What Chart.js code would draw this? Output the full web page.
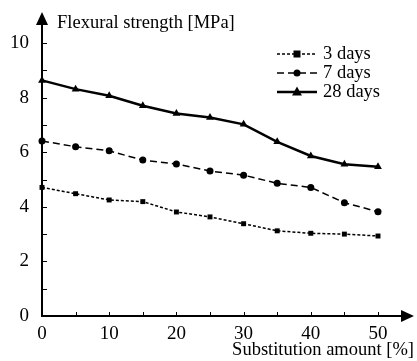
<!DOCTYPE html>
<html>
<head>
<meta charset="utf-8">
<script src="https://cdn.jsdelivr.net/npm/chart.js@4/dist/chart.umd.min.js"></script>
<style>
  html, body { margin: 0; padding: 0; background: #fff; }
  #wrap { width: 417px; height: 361px; }
</style>
</head>
<body>
<div id="wrap"><canvas id="flexChart"></canvas></div>
<script>
// 치환율 [%]
const substitution = [0, 5, 10, 15, 20, 25, 30, 35, 40, 45, 50];
// 휨강도 [MPa]
const days3 = [4.71, 4.48, 4.25, 4.19, 3.81, 3.63, 3.38, 3.12, 3.03, 3.00, 2.93];
const days7 = [6.41, 6.20, 6.05, 5.71, 5.57, 5.31, 5.16, 4.86, 4.71, 4.15, 3.82];
const days28 = [8.63, 8.31, 8.07, 7.70, 7.42, 7.27, 7.02, 6.38, 5.86, 5.56, 5.47];
const seriesNames = ['3 days', '7 days', '28 days'];
const xLabels = [0, 10, 20, 30, 40, 50];
const yLabels = [0, 2, 4, 6, 8, 10];

const serif = '"Liberation Serif", "Times New Roman", serif';

function toPoints(values) {
    return values.map((v, i) => ({ x: substitution[i], y: v }));
}

function drawMarker(ctx, style, r, x, y) {
    ctx.beginPath();
    if (style === 'rect') {
        ctx.rect(x - r, y - r, r * 2, r * 2);
    } else if (style === 'circle') {
        ctx.arc(x, y, r, 0, Math.PI * 2);
    } else {
        ctx.moveTo(x, y - r * 1.2);
        ctx.lineTo(x + r * 1.1, y + r * 0.8);
        ctx.lineTo(x - r * 1.1, y + r * 0.8);
        ctx.closePath();
    }
    ctx.fill();
}

// 축, 화살표, 눈금, 제목, 범례
const decorPlugin = {
    id: 'decor',
    afterDatasetsDraw(chart) {
        const ctx = chart.ctx;
        const xs = chart.scales.x;
        const ys = chart.scales.y;
        const x0 = xs.getPixelForValue(0);
        const y0 = ys.getPixelForValue(0);
        ctx.save();
        ctx.strokeStyle = '#000';
        ctx.fillStyle = '#000';
        ctx.lineWidth = 2;
        ctx.setLineDash([]);

        // 축선
        ctx.beginPath();
        ctx.moveTo(x0, y0 + 1);
        ctx.lineTo(x0, 22);
        ctx.moveTo(x0 - 1, y0);
        ctx.lineTo(404, y0);
        ctx.stroke();

        // 화살표
        ctx.beginPath();
        ctx.moveTo(x0, 12);
        ctx.lineTo(x0 + 6, 25);
        ctx.lineTo(x0 - 6, 25);
        ctx.closePath();
        ctx.fill();
        ctx.beginPath();
        ctx.moveTo(414, y0);
        ctx.lineTo(401, y0 - 6);
        ctx.lineTo(401, y0 + 6);
        ctx.closePath();
        ctx.fill();

        // 눈금 (안쪽)
        ctx.lineWidth = 1;
        ctx.beginPath();
        for (let v = 5; v <= 50; v += 5) {
            const px = Math.round(xs.getPixelForValue(v)) + 0.5;
            ctx.moveTo(px, y0);
            ctx.lineTo(px, y0 - 4);
        }
        for (let v = 1; v <= 10; v += 1) {
            const py = Math.round(ys.getPixelForValue(v)) + 0.5;
            ctx.moveTo(x0, py);
            ctx.lineTo(x0 + 5, py);
        }
        ctx.stroke();

        // 축 제목
        ctx.font = '18.5px ' + serif;
        ctx.textBaseline = 'alphabetic';
        ctx.textAlign = 'left';
        ctx.fillText('Flexural strength [MPa]', 57, 28);
        ctx.textAlign = 'right';
        ctx.fillText('Substitution amount [%]', 414, 355);

        // 범례
        const rows = [54, 73, 92];
        ctx.font = '18.5px ' + serif;
        chart.data.datasets.forEach((ds, i) => {
            const y = rows[i];
            ctx.lineWidth = ds.borderWidth;
            ctx.setLineDash(ds.borderDash || []);
            ctx.beginPath();
            ctx.moveTo(277, y);
            ctx.lineTo(317, y);
            ctx.stroke();
            ctx.setLineDash([]);
            drawMarker(ctx, ds.pointStyle, ds.pointRadius, 297, y);
            ctx.textAlign = 'left';
            ctx.textBaseline = 'middle';
            ctx.fillText(ds.label, 323, y);
        });
        ctx.restore();
    }
};

const ctx = document.getElementById('flexChart').getContext('2d');
new Chart(ctx, {
    type: 'line',
    data: {
        datasets: [
            {
                label: seriesNames[0],
                data: toPoints(days3),
                borderColor: '#000',
                backgroundColor: '#000',
                borderWidth: 1.5,
                borderDash: [3, 2],
                pointStyle: 'rect',
                pointRadius: 3.5,
                pointBorderWidth: 0
            },
            {
                label: seriesNames[1],
                data: toPoints(days7),
                borderColor: '#000',
                backgroundColor: '#000',
                borderWidth: 1.5,
                borderDash: [7, 4],
                pointStyle: 'circle',
                pointRadius: 3.5,
                pointBorderWidth: 0
            },
            {
                label: seriesNames[2],
                data: toPoints(days28),
                borderColor: '#000',
                backgroundColor: '#000',
                borderWidth: 2.5,
                pointStyle: 'triangle',
                pointRadius: 4.5,
                pointBorderWidth: 0
            }
        ]
    },
    options: {
        responsive: true,
        maintainAspectRatio: false,
        animation: false,
        clip: false,
        layout: { padding: { top: 43, right: 39, left: 0, bottom: 0 } },
        plugins: {
            legend: { display: false },
            tooltip: { enabled: false }
        },
        elements: { line: { tension: 0 } },
        scales: {
            x: {
                type: 'linear',
                min: 0,
                max: 50,
                afterFit: scale => { scale.height = 45; },
                afterBuildTicks: scale => { scale.ticks = xLabels.map(v => ({ value: v })); },
                grid: { display: false, drawTicks: false },
                border: { display: false },
                ticks: {
                    padding: 7,
                    color: '#000',
                    font: { family: serif, size: 19 }
                }
            },
            y: {
                min: 0,
                max: 10,
                afterFit: scale => { scale.width = 42; },
                afterBuildTicks: scale => { scale.ticks = yLabels.map(v => ({ value: v })); },
                grid: { display: false, drawTicks: false },
                border: { display: false },
                ticks: {
                    padding: 13,
                    color: '#000',
                    font: { family: serif, size: 19 }
                }
            }
        }
    },
    plugins: [decorPlugin]
});
</script>
</body>
</html>
